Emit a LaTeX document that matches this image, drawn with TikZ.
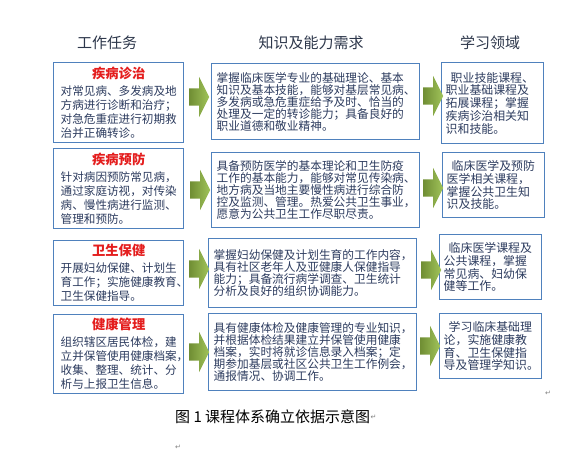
\documentclass[tikz,border=0pt]{standalone}
\usepackage{fontspec}
\setmainfont{Noto Sans CJK SC}
\newfontfamily\symfont{DejaVu Sans}
\usetikzlibrary{shapes.arrows}
\definecolor{boxblue}{RGB}{79,129,189}
\definecolor{bodytxt}{RGB}{45,60,95}
\definecolor{headtxt}{RGB}{45,55,75}
\definecolor{ttlred}{RGB}{228,30,30}
\definecolor{agreenD}{RGB}{112,142,52}
\definecolor{agreenL}{RGB}{160,195,90}
\newcommand\boxttl[1]{\makebox[116pt]{\color{ttlred}\bfseries\fontsize{13.3}{14}\selectfont #1}}
\tikzset{
  basebox/.style={draw=boxblue, line width=1.4pt, fill=white, anchor=north west,
    inner ysep=0pt, align=left, text=bodytxt},
  lbox/.style={basebox, minimum width=130pt, inner xsep=7pt, text width=116pt,
    font=\fontsize{11.6}{14}\selectfont},
  mbox/.style={basebox, minimum width=208pt, inner xsep=5pt, text width=198pt,
    font=\fontsize{11.7}{12}\selectfont},
  rbox/.style={basebox, minimum width=102pt, inner xsep=4pt, text width=94pt,
    font=\fontsize{11.9}{12.8}\selectfont},
  head/.style={text=headtxt, font=\fontsize{15}{18}\selectfont},
  garrow/.style={single arrow, draw=none, left color=agreenD, right color=agreenL,
    minimum height=20pt, minimum width=40pt, inner xsep=0pt, inner ysep=8.5pt,
    single arrow head extend=11.5pt, single arrow tip angle=127},
  retmark/.style={text=gray, font=\symfont\fontsize{7}{8}\selectfont, inner sep=0pt}
}
\begin{document}
\begin{tikzpicture}[x=1pt,y=-1pt]
\useasboundingbox[fill=white] (0,0) rectangle (581,452);
% headers
\node[head] (h1) at (107,43) {工作任务};
\node[head] (h2) at (311,43) {知识及能力需求};
\node[head] (h3) at (490,43) {学习领域};
% row 1
\node[lbox, minimum height=80pt] (t1) at (53,62) {\boxttl{疾病诊治}\\[3pt]对常见病、多发病及地\\方病进行诊断和治疗；\\对急危重症进行初期救\\治并正确转诊。};
\node[mbox, minimum height=76pt] (m1) at (211,63) {掌握临床医学专业的基础理论、基本\\知识及基本技能，能够对基层常见病、\\多发病或急危重症给予及时、恰当的\\处理及一定的转诊能力；具备良好的\\职业道德和敬业精神。};
\node[rbox, minimum height=81pt] (r1) at (441,62) {\hspace*{5pt}职业技能课程、\\职业基础课程及\\拓展课程；掌握\\疾病诊治相关知\\识和技能。};
\node[garrow] (a11) at (197,97) {};
\node[garrow] (a12) at (431,96) {};
% row 2
\node[lbox, minimum height=80pt] (t2) at (53,148) {\boxttl{疾病预防}\\[3pt]针对病因预防常见病，\\通过家庭访视，对传染\\病、慢性病进行监测、\\管理和预防。};
\node[mbox, minimum height=75pt] (m2) at (211,152) {具备预防医学的基本理论和卫生防疫\\工作的基本能力，能够对常见传染病、\\地方病及当地主要慢性病进行综合防\\控及监测、管理。热爱公共卫生事业，\\愿意为公共卫生工作尽职尽责。};
\node[rbox, minimum height=65pt] (r2) at (442,152) {\hspace*{5pt}临床医学及预防\\医学相关课程，\\掌握公共卫生知\\识及技能。};
\node[garrow] (a21) at (198,190) {};
\node[garrow] (a22) at (431,188) {};
% row 3
\node[lbox, minimum height=65pt] (t3) at (53,240) {\boxttl{卫生保健}\\[3pt]开展妇幼保健、计划生\\育工作；实施健康教育、\\卫生保健指导。};
\node[mbox, minimum height=69pt] (m3) at (208,238) {掌握妇幼保健及计划生育的工作内容，\\具有社区老年人及亚健康人保健指导\\能力；具备流行病学调查、卫生统计\\分析及良好的组织协调能力。};
\node[rbox, minimum height=65pt] (r3) at (439,234) {\hspace*{5pt}临床医学课程及\\公共课程，掌握\\常见病、妇幼保\\健等工作。};
\node[garrow] (a31) at (197,269) {};
\node[garrow] (a32) at (429,270) {};
% row 4
\node[lbox, minimum height=79pt] (t4) at (53,314) {\boxttl{健康管理}\\[3pt]组织辖区居民体检，建\\立并保管使用健康档案，\\收集、整理、统计、分\\析与上报卫生信息。};
\node[mbox, minimum height=77pt] (m4) at (208,313) {具有健康体检及健康管理的专业知识，\\并根据体检结果建立并保管使用健康\\档案，实时将就诊信息录入档案；定\\期参加基层或社区公共卫生工作例会，\\通报情况、协调工作。};
\node[rbox, minimum height=65pt] (r4) at (439,313) {\hspace*{5pt}学习临床基础理\\论，实施健康教\\育、卫生保健指\\导及管理学知识。};
\node[garrow] (a41) at (197,352) {};
\node[garrow] (a42) at (428,346) {};
% caption and marks
\node[anchor=west, inner sep=0pt, font=\fontsize{15}{18}\selectfont] (cap) at (175,417) {图 1 课程体系确立依据示意图};
\node[retmark, anchor=west] (rm2) at (cap.east) {↵};
\node[retmark] (rm1) at (548,393) {↵};
\node[retmark] (rm3) at (178,447) {↵};
\end{tikzpicture}
\end{document}
